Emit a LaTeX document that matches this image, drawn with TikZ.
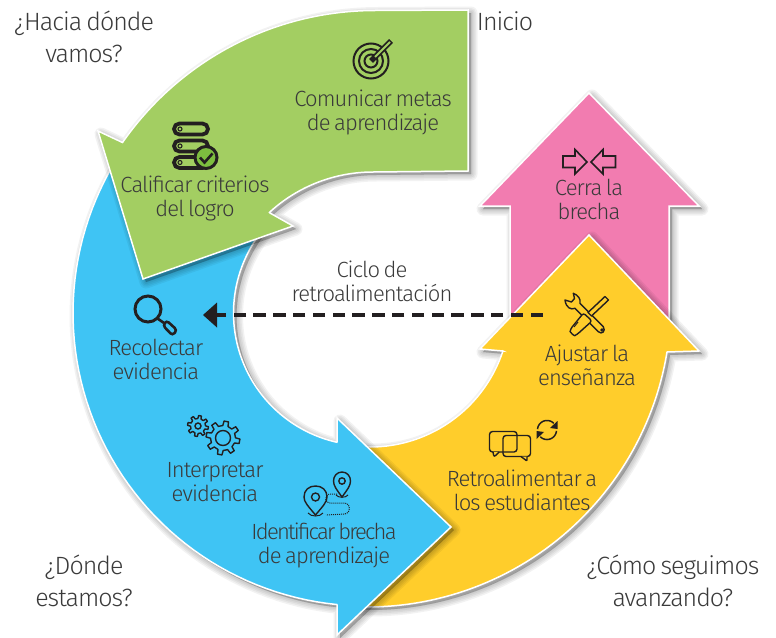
\documentclass[tikz,border=0pt]{standalone}
\usepackage{fontspec}
\setmainfont{Fira Sans Light}[LetterSpace=-4,WordSpace=0.7]
\usetikzlibrary{arrows.meta}
\definecolor{cgreen}{HTML}{A3CE62}
\definecolor{cblue}{HTML}{3FC4F4}
\definecolor{cyellow}{HTML}{FFCD2B}
\definecolor{cpink}{HTML}{F27CB0}
\definecolor{ctext}{HTML}{3A3A3A}
\definecolor{cicon}{HTML}{231F20}
\definecolor{cbadge}{HTML}{7DBE3F}
\newcommand\ARC[5]{-- plot[domain=#4:#5,samples=60,variable=\t] ({#1+#3*cos(\t)},{#2+#3*sin(\t)})}
\newcommand\ARCS[5]{({#1+#3*cos(#4)},{#2+#3*sin(#4)}) \ARC{#1}{#2}{#3}{#4}{#5}}
\newcommand\pgreen{(468,10) \ARC{375}{318}{307.5}{270}{214.8} -- (98,131) -- (143,279) -- (293,226) -- (270,213) \ARC{373}{325}{153}{227.4}{270} -- (468,171) -- cycle}
\newcommand\pblue{\ARCS{366}{313}{293}{215}{95.7} -- (337,605) -- (337,635) -- (451,527) -- (337,418) -- (337,442) \ARC{366}{313}{132.5}{102.7}{225} -- cycle}
\newcommand\pyellow{\ARCS{367}{303}{304}{92}{9.3} -- (667,352) -- (699,351) -- (589,235) -- (480,349) -- (503,351) \ARC{370}{307}{140}{18.3}{98} -- cycle}
\newcommand\ppink{(589,93) -- (699,206) -- (669,206) -- (669,330) -- (510,330) -- (510,206) -- (480,206) -- cycle}
\newcommand\softshadow[1]{\foreach \w in {13,10,7,4,1}{\fill[black,opacity=.05,draw=black,line width=\w pt,line join=round,shift={(3,3)}] #1;}}
\newcommand\gearicon[5]{% x y rin rout teeth
  \pgfmathsetmacro\gstep{360/#5}
  \pgfmathsetmacro\goff{0.25}
  \draw[iconline,line join=round] ({#1+#4*cos((\goff-0.17)*\gstep)},{#2+#4*sin((\goff-0.17)*\gstep)})
    foreach \i in {1,...,#5}{
      -- ({#1+#4*cos((\i-1+\goff+0.17)*\gstep)},{#2+#4*sin((\i-1+\goff+0.17)*\gstep)})
      -- ({#1+#3*cos((\i-1+\goff+0.27)*\gstep)},{#2+#3*sin((\i-1+\goff+0.27)*\gstep)})
      -- ({#1+#3*cos((\i-1+\goff+0.73)*\gstep)},{#2+#3*sin((\i-1+\goff+0.73)*\gstep)})
      -- ({#1+#4*cos((\i-1+\goff+0.83)*\gstep)},{#2+#4*sin((\i-1+\goff+0.83)*\gstep)})
    } -- cycle;}
\tikzset{
  band/.style={draw=white,line width=1.5pt,line join=miter},
  iconline/.style={draw=cicon,line width=1.4pt,fill=none},
  inlabel/.style={text=ctext,align=center,font=\fontsize{22}{24}\selectfont,inner sep=0pt},
  outlabel/.style={text=ctext,align=center,font=\fontsize{25}{31.5}\selectfont,inner sep=0pt},
}
\begin{document}
\begin{tikzpicture}[x=1pt,y=-1pt]
\useasboundingbox (0,0) rectangle (776,637);
% bands
\softshadow{\ppink}
\fill[cpink,band] \ppink;
\softshadow{\pyellow}
\fill[cyellow,band] \pyellow;
\softshadow{\pblue}
\fill[cblue,band] \pblue;
\softshadow{\pgreen}
\fill[cgreen,band] \pgreen;

% target icon
\draw[cicon,line width=2pt] (371,61) circle (17.5) (371,61) circle (12) (371,61) circle (6.5);
\draw[cicon,line width=5.5pt] (371,61) -- (391,41);
\draw[cgreen,line width=2pt] (375,57) -- (390,42);
% servers icon
\foreach \yy in {123.5,140.5,157}{
  \draw[cicon,line width=3.8pt,rounded corners=5.5pt] (174,\yy) rectangle (208,\yy+11);
  \draw[cicon,line width=1.1pt] (180,\yy+5.5) circle (2);
}
\fill[cbadge,draw=cicon,line width=3pt] (206,157.5) circle (11);
\draw[cicon,line width=2.6pt] (200,157.5) -- (204.5,162.5) -- (212.5,153.5);
% magnifier
\draw[cicon,line width=3pt] (148,309) circle (13);
\draw[cicon,line width=2.6pt,rounded corners=3pt] (163,325.5) -- (166.5,320.5) -- (177,330) -- (172.5,335.5) -- cycle;
\draw[cicon,line width=2.6pt] (157.5,318.5) -- (164,323);
% gears
\gearicon{198}{426}{7.5}{10.5}{8}
\draw[iconline] (198,426) circle (3);
\gearicon{223}{438}{12.5}{17}{8}
\draw[iconline] (223,438) circle (7.5);
% pins
\draw[iconline] (315.5,515) .. controls (308,506) and (304,502) .. (304,497) .. controls (304,490) and (309,486) .. (315.5,486) .. controls (322,486) and (327,490) .. (327,497) .. controls (327,502) and (323,506) .. (315.5,515) -- cycle;
\draw[iconline] (315.5,497) circle (4);
\draw[cicon,line width=1pt] (308,513) .. controls (311,517) and (320,517) .. (323,513);
\draw[iconline] (342,497) .. controls (337,490) and (333.5,486) .. (333.5,481) .. controls (333.5,476) and (337,472) .. (342,472) .. controls (347,472) and (350.5,476) .. (350.5,481) .. controls (350.5,486) and (347,490) .. (342,497) -- cycle;
\draw[iconline] (342,481) circle (3.2);
\draw[cicon,line width=1pt] (336,495) .. controls (338,498) and (346,498) .. (348,495);
\draw[cicon,line width=1pt,densely dotted] (337,494) -- (329,494) .. controls (324,497) and (325,503) .. (330,503) -- (345,503) .. controls (351,503) and (351,514) .. (345,514) -- (326,515);
% arrows in
\draw[cicon,line width=1.6pt,line join=miter] (587,162) -- (575,149.5) -- (575,156) -- (563,156) -- (563,167.5) -- (575,167.5) -- (575,174) -- cycle;
\draw[cicon,line width=1.6pt,line join=miter] (591,162) -- (603,149.5) -- (603,156) -- (615.5,156) -- (615.5,167.5) -- (603,167.5) -- (603,174) -- cycle;
% tools
\draw[iconline,line join=round] (573.3,293.3) .. controls (578,295) and (581,299) .. (580,303.3) -- (603.3,326.7) .. controls (606,331) and (602,335) .. (598.3,331.7) -- (575,308.3) .. controls (571,310) and (566,308) .. (565,300) -- (571.5,302) -- (574.5,298.5) -- cycle;
\draw[iconline,fill=cyellow,line join=round] (605,296.5) -- (608.5,300) -- (591.5,316) -- (588,312.5) -- cycle;
\draw[iconline,fill=cyellow,rounded corners=2.5pt] (583.5,313) -- (592,321) -- (577,334.5) .. controls (574,336) and (570,332) .. (570.5,329) -- cycle;
\draw[cicon,line width=1pt] (578,322) -- (574,327);
\draw[cicon,line width=1pt] (602,330) circle (1.2);
% chat
\draw[iconline,rounded corners=3pt] (489.5,431.5) rectangle (517,452) ;
\draw[iconline,fill=cyellow,rounded corners=2pt] (493,452) -- (494,457) -- (499,452);
\draw[iconline,rounded corners=3pt] (503,435.5) rectangle (530.5,456.5);
\draw[iconline,fill=cyellow,rounded corners=1pt] (521,456.5) -- (527,461) -- (527,456.5);
% refresh
\draw[cicon,line width=1.5pt] \ARCS{547}{430}{9.5}{-175}{-45};
\draw[cicon,line width=1.5pt] \ARCS{547}{430}{9.5}{5}{135};
\fill[cicon] (557.5,421) -- (557.5,429) -- (550,428) -- cycle;
\fill[cicon] (536.5,439) -- (536.5,431) -- (544,432) -- cycle;

% dashed connector
\coordinate (loopstart) at (543,315);
\coordinate (loopend) at (217,315);
\coordinate (looptip) at (203,315);
\draw[cicon,line width=3.8pt,dash pattern=on 12.5pt off 7.3pt] (loopstart) -- (loopend);
\fill[cicon] (looptip) -- (217,302.5) -- (217,327.5) -- cycle;

% labels
\node[inlabel] (metas) at (373,112) {Comunicar metas\\de aprendizaje};
\node[inlabel] (criterios) at (195,198) {Calificar criterios\\del logro};
\node[inlabel] (recolectar) at (156,359) {Recolectar\\evidencia};
\node[inlabel] (interpretar) at (215,482) {Interpretar\\evidencia};
\node[inlabel] (identificar) at (324,545) {{\addfontfeature{LetterSpace=-8}Identificar brecha}\\de aprendizaje};
\node[inlabel] (retro) at (522,490) {Retroalimentar a\\los estudiantes};
\node[inlabel] (ajustar) at (587,365) {Ajustar la\\enseñanza};
\node[inlabel] (cerra) at (589,199) {Cerra la\\brecha};
\node[inlabel] (ciclo) at (372,281) {Ciclo de\\retroalimentación};
\node[outlabel] (hacia) at (84,37) {¿Hacia dónde\\vamos?};
\node[outlabel] (inicio) at (505,21) {Inicio};
\node[outlabel] (donde) at (84,581) {¿Dónde\\estamos?};
\node[outlabel] (como) at (673,581) {¿Cómo seguimos\\avanzando?};
\end{tikzpicture}
\end{document}
